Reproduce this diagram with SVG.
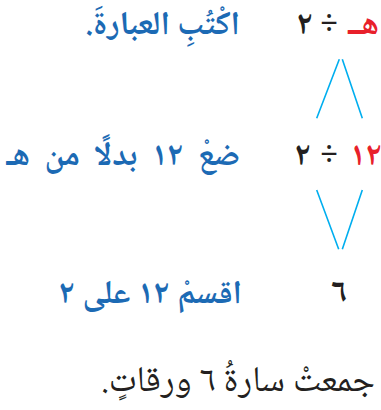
<svg xmlns="http://www.w3.org/2000/svg" width="381" height="410" viewBox="0 0 381 410">
<style>
text{font-family:"Noto Naskh Arabic","Noto Sans Arabic","DejaVu Sans",serif;font-size:33px;font-weight:bold}
.b{fill:#1c6ab4}
.k{fill:#231f20}
.r{fill:#e8202a}
.s{font-size:36px;font-weight:normal}
.ln{stroke:#00aeef;stroke-width:1.6;fill:none}
</style>
<rect width="381" height="410" fill="#fff"/>
<g id="connectors">
<path class="ln" d="M316.7,118.3 L339.3,59.3 M342.3,59.3 L362.3,118.3"/>
<path class="ln" d="M316.7,190 L338.7,249.3 M362.3,190 L342.3,249.3"/>
</g>
<g id="row1">
<text class="r" x="379" y="34" text-anchor="end">هــ</text>
<text class="k" x="329" y="34" text-anchor="middle">÷</text>
<text class="k" x="313" y="34" text-anchor="end">٢</text>
<text class="b" x="240" y="34" text-anchor="end">اكْتُبِ العبارةَ.&#x200F;</text>
</g>
<g id="row2">
<text class="r" x="382" y="165" text-anchor="end">١٢</text>
<text class="k" x="329" y="165" text-anchor="middle">÷</text>
<text class="k" x="311" y="165" text-anchor="end">٢</text>
<text class="b" x="240" y="165" text-anchor="end" word-spacing="7">ضعْ ١٢ بدلًا من هـ&#x200F;</text>
</g>
<g id="row3">
<text class="k" x="347" y="302" text-anchor="end">٦</text>
<text class="b" x="242" y="303" text-anchor="end">اقسمْ ١٢ على ٢&#x200F;</text>
</g>
<g id="sentence">
<text class="k s" x="375" y="391" text-anchor="end">جمعتْ سارةُ ٦ ورقاتٍ.&#x200F;</text>
</g>
</svg>
